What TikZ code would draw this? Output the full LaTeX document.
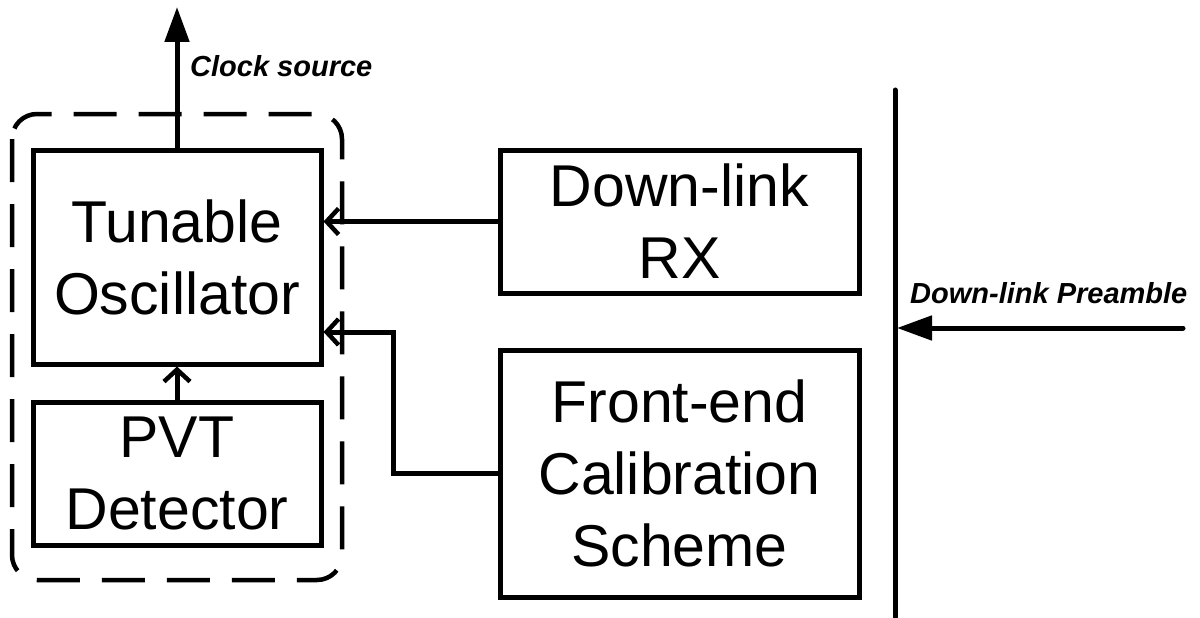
\documentclass[tikz,border=0pt]{standalone}
\usepackage{fontspec}
\setmainfont{Liberation Sans}
\usetikzlibrary{arrows.meta}
\begin{document}
\begin{tikzpicture}[x=1pt,y=-1pt,
  blk/.style={draw,line width=5pt,inner sep=0pt,align=center,
    font=\fontsize{59}{72}\selectfont},
  lbl/.style={font=\fontsize{29}{34}\selectfont\bfseries\itshape,inner sep=0pt,anchor=base west},
  vee/.style={line width=5pt,-{Straight Barb[length=12pt,width=26pt,line width=4.5pt]}},
  tri/.style={line width=5pt,line cap=round,-{Triangle[length=35pt,width=24pt]}},
  grp/.style={draw,line width=4.5pt,dash pattern=on 43pt off 22pt,rounded corners=25pt}]
\useasboundingbox (0,0) rectangle (1200,618);
\draw[grp] (12,114) rectangle (342,580);
\node[blk,minimum width=288pt,minimum height=214pt] (osc) at (177,257) {Tunable\\Oscillator};
\node[blk,minimum width=288pt,minimum height=143pt] (pvt) at (177,473.5) {PVT\\Detector};
\node[blk,minimum width=359pt,minimum height=143pt] (rx) at (679.5,221.5) {Down-link\\RX};
\node[blk,minimum width=359pt,minimum height=247pt] (fe) at (679.5,473.5) {Front-end\\Calibration\\Scheme};
\coordinate (clk) at (177,7);
\coordinate (k) at (393,332);
\coordinate (bartop) at (895,90);
\coordinate (barbot) at (895,625);
\coordinate (pin) at (1183,328);
\coordinate (pend) at (897,328);
\draw[tri] (osc.north) -- (clk);
\node[lbl] (clklbl) at (190,77) {Clock source};
\draw[vee] (rx.west) -- (osc.east |- rx.west);
\draw[vee] (fe.west) -| (k) -- (osc.east |- k);
\draw[vee] (pvt.north) -- (osc.south);
\draw[line width=5pt,line cap=round] (bartop) -- (barbot);
\draw[tri] (pin) -- (pend);
\node[lbl] (prlbl) at (910,303) {Down-link Preamble};
\end{tikzpicture}
\end{document}
